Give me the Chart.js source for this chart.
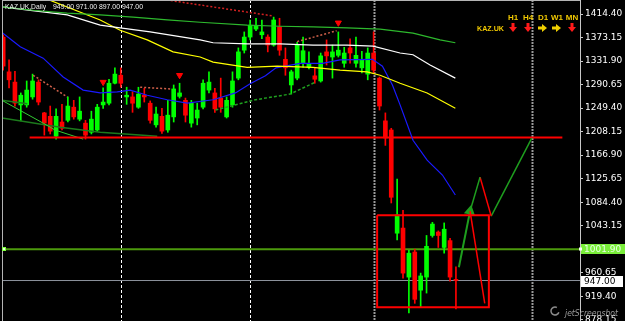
<!DOCTYPE html>
<html>
<head>
<meta charset="utf-8">
<script src="https://cdn.jsdelivr.net/npm/chart.js@4.4.0/dist/chart.umd.min.js"></script>
<style>
  html, body { margin: 0; padding: 0; background: #000; }
  canvas { display: block; }
</style>
</head>
<body>
<canvas id="chart" width="625" height="321"></canvas>
<script>
// KAZ.UK daily candles (index 0 = oldest visible bar)
const opens = [1374,1313,1295,1255,1255,1269,1295,1241,1235,1200,
               1225,1228,1251,1230,1223,1207,1211,1255,1258,1293,
               1307,1269,1269,1251,1272,1258,1220,1235,1211,1234,
               1270,1263,1223,1232,1251,1281,1276,1267,1234,1255,
               1302,1351,1374,1388,1378,1374,1360,1392,1335,1290,
               1302,1328,1321,1306,1297,1348,1339,1342,1328,1355,
               1328,1320,1309,1346,1302,1227,1211,1030,1039,953,
               997,930,953,1026,1032,1005,1017,949];
const highs = [1378,1334,1314,1276,1297,1309,1299,1242,1253,1248,
               1256,1269,1263,1269,1228,1244,1256,1285,1300,1320,
               1320,1286,1278,1286,1284,1262,1251,1249,1263,1290,
               1293,1267,1263,1258,1299,1313,1284,1302,1269,1313,
               1355,1383,1404,1407,1404,1378,1409,1407,1355,1316,
               1365,1374,1348,1320,1346,1369,1360,1383,1356,1371,
               1374,1349,1355,1383,1304,1241,1214,1125,1070,1000,
               1002,960,1026,1049,1034,1048,1021,971];
const lows = [1316,1285,1253,1227,1251,1265,1255,1202,1204,1195,
              1211,1225,1230,1227,1195,1204,1209,1249,1255,1292,
              1286,1256,1242,1249,1260,1223,1216,1205,1207,1225,
              1267,1225,1216,1220,1248,1276,1242,1242,1232,1251,
              1299,1346,1369,1385,1371,1348,1358,1342,1307,1274,
              1299,1321,1318,1293,1295,1325,1302,1339,1321,1328,
              1321,1311,1299,1311,1246,1184,1083,1018,951,890,
              907,900,925,1023,1005,995,946,897];
const closes = [1323,1299,1258,1272,1281,1297,1260,1223,1209,1235,
                1214,1253,1234,1244,1202,1230,1251,1260,1293,1309,
                1293,1272,1258,1274,1269,1228,1239,1209,1237,1283,
                1276,1237,1258,1246,1293,1295,1248,1251,1263,1297,
                1348,1374,1395,1393,1383,1360,1404,1351,1320,1313,
                1360,1350,1328,1300,1341,1341,1348,1351,1346,1346,
                1342,1334,1346,1316,1253,1197,1093,1062,960,995,
                914,955,1007,1046,1026,1037,953,947];

// moving averages, read at sample bars
const blueX = [-0.2,2.9,6.8,10.2,13.6,16.5,19.4,21.6,24.5,27.9,31.3,35.7,39.5,42.0,44.6,46.4,50.5,54.3,57.3,62.8,64.5,66.2,67.5,69.7,72.1,74.7,76.9];
const blueY = [1382,1357,1337,1304,1281,1276,1278,1281,1272,1264,1258,1264,1276,1292,1306,1320,1328,1328,1334,1335,1323,1290,1255,1193,1158,1132,1097];
const whiteX = [-0.2,2.9,10.9,16.5,19.9,25.0,33.5,35.7,41.5,47.1,52.7,58.5,62.9,67.5,69.7,72.6,76.9];
const whiteY = [1427,1423,1413,1395,1390,1383,1369,1364,1362,1362,1360,1360,1358,1346,1343,1325,1302];
const yellowX = [6.6,16.5,19.9,24.5,28.9,33.5,35.7,41.5,46.6,52.7,57.3,61.9,64.1,67.5,72.1,76.9];
const yellowY = [1444,1404,1386,1369,1348,1339,1330,1321,1323,1321,1316,1313,1307,1293,1276,1249];
const greenX = [-0.2,5.1,10.9,16.5,22.1,27.9,33.5,41.5,47.1,52.7,58.5,64.1,69.7,74.3,76.9];
const greenY = [1427,1421,1416,1413,1409,1404,1400,1395,1393,1392,1390,1388,1381,1369,1364];

// trend lines
const resTopX = [28.5,45.9], resTopY = [1438,1411];
const res1X = [5.1,10.9], res1Y = [1307,1269];
const res2X = [23.3,28.4], res2Y = [1286,1283];
const res3X = [50.0,56.7], res3Y = [1366,1385];
const supX = [36.1,42.9,48.8,53.1], supY = [1246,1264,1274,1295];
const lgX = [-0.2,6.8,8.8,13.6], lgY = [1263,1223,1211,1195];
const dg1X = [-0.2,4.1], dg1Y = [1263,1257];
const dg2X = [-0.2,9.7,16.5,26.2], dg2Y = [1232,1216,1207,1200];

// levels and annotations
const levelRed = 1198, levelRedFrom = 4.5, levelRedTo = 95.1;
const levelGreen = 1001.9;
const lastPrice = 947;
const boxX = [63.6,82.6,82.6,63.6,63.6], boxY = [1061.6,1061.6,900.1,900.1,1061.6];
const arrowUpX = [77.5,79.4], arrowUpY = [970.3,1068.6];
const zigGreen1X = [79.4,81.1], zigGreen1Y = [1068.6,1128.3];
const zigRedX = [81.1,83.0], zigRedY = [1128.3,1059.9];
const zigGreen2X = [83.0,89.9], zigGreen2Y = [1059.9,1196.8];
const dropRedX = [79.4,81.9], dropRedY = [1068.6,907.1];
const fractalX = [17,30,57], fractalY = [1295,1307,1399];
const vLineIdx = [20,42,63,90];
const tickVals = [1414.40,1373.15,1331.90,1290.65,1249.40,1208.15,1166.90,1125.65,1084.40,1043.15,1001.90,960.65,919.40,878.15];

const GREEN = '#00ff00', RED = '#ff0000';
const bars = opens.map((o, i) => i);
const candleColors = bars.map(i => closes[i] >= opens[i] ? GREEN : RED);

function pts(xs, ys) { return xs.map((x, k) => ({ x: x, y: ys[k] })); }
function line(xs, ys, color, width, dash, order) {
  return {
    type: 'line', data: pts(xs, ys), borderColor: color, borderWidth: width,
    borderDash: dash || [], pointRadius: 0, fill: false, tension: 0, order: order
  };
}

const datasets = [
  line([-0.2, 98.1], [levelGreen, levelGreen], '#4c9a0c', 2, null, 9),
  line([-0.2, 98.1], [lastPrice, lastPrice], '#8c929c', 1, null, 9),
  { type: 'bar', data: bars.map(i => ({ x: i, y: [lows[i], highs[i]] })),
    backgroundColor: candleColors, barThickness: 1, grouped: false, order: 6 },
  { type: 'bar', data: bars.map(i => ({ x: i, y: [Math.min(opens[i], closes[i]), Math.max(opens[i], closes[i])] })),
    backgroundColor: candleColors, barThickness: 4, grouped: false, order: 5 },
  line(lgX, lgY, '#33cc33', 1, null, 4),
  line(dg1X, dg1Y, '#1c7a1c', 1.5, null, 4),
  line(dg2X, dg2Y, '#1c7a1c', 1.5, null, 4),
  line(resTopX, resTopY, '#d42020', 1.5, [2, 2], 4),
  line(res1X, res1Y, '#d0604a', 1.5, [2, 2], 4),
  line(res2X, res2Y, '#d0604a', 1.5, [2, 2], 4),
  line(res3X, res3Y, '#d0604a', 1.5, [2, 2], 4),
  line(supX, supY, '#1fa01f', 1.5, [3, 2], 4),
  line(greenX, greenY, '#2db82d', 1.2, null, 2),
  line(whiteX, whiteY, '#ffffff', 1.2, null, 2),
  line(yellowX, yellowY, '#ffff00', 1.2, null, 2),
  line(blueX, blueY, '#1a1aff', 1.2, null, 2),
  line([levelRedFrom, levelRedTo], [levelRed, levelRed], RED, 2, null, 3),
  line(boxX, boxY, RED, 2, null, 1),
  line(dropRedX, dropRedY, RED, 1.5, null, 1),
  line(zigGreen1X, zigGreen1Y, '#1e9e1e', 1.5, null, 1),
  line(zigRedX, zigRedY, RED, 1.5, null, 1),
  line(zigGreen2X, zigGreen2Y, '#1e9e1e', 1.5, null, 1),
  Object.assign(line(arrowUpX, arrowUpY, '#1e9e1e', 2, null, 1), {
    pointRadius: [0, 4.5], pointStyle: 'triangle', pointRotation: 11,
    pointBackgroundColor: '#1e9e1e', pointBorderColor: '#1e9e1e'
  }),
  { type: 'line', data: pts(fractalX, fractalY), showLine: false, pointStyle: 'triangle',
    pointRotation: 180, pointRadius: 3.5, pointBackgroundColor: RED, pointBorderColor: RED, order: 1 }
];

function downArrow(ctx, cx, top, color) {
  ctx.fillStyle = color;
  ctx.fillRect(cx - 1.5, top, 3, 5);
  ctx.beginPath();
  ctx.moveTo(cx - 4, top + 4); ctx.lineTo(cx + 4, top + 4); ctx.lineTo(cx, top + 9);
  ctx.closePath(); ctx.fill();
}
function rightArrow(ctx, cx, cy, color) {
  ctx.fillStyle = color;
  ctx.fillRect(cx - 5, cy - 1.5, 5, 3);
  ctx.beginPath();
  ctx.moveTo(cx - 1, cy - 4); ctx.lineTo(cx - 1, cy + 4); ctx.lineTo(cx + 4, cy);
  ctx.closePath(); ctx.fill();
}

const overlay = {
  id: 'overlay',
  beforeDatasetsDraw(chart) {
    const ctx = chart.ctx, xs = chart.scales.x, area = chart.chartArea;
    ctx.save();
    vLineIdx.forEach((idx, k) => {
      const x = Math.round(xs.getPixelForValue(idx)) + 0.5;
      ctx.beginPath();
      if (k < 2) { ctx.strokeStyle = '#ffffff'; ctx.lineWidth = 1; ctx.setLineDash([3, 2]); }
      else { ctx.strokeStyle = '#9a9a9a'; ctx.lineWidth = 2; ctx.setLineDash([2, 1]); }
      ctx.moveTo(x, area.top); ctx.lineTo(x, area.bottom); ctx.stroke();
    });
    ctx.restore();
  },
  afterDraw(chart) {
    const ctx = chart.ctx, ys = chart.scales.y, area = chart.chartArea;
    ctx.save();
    // frame
    ctx.strokeStyle = '#b4b4b4'; ctx.lineWidth = 1; ctx.setLineDash([]);
    ctx.beginPath();
    ctx.moveTo(area.left + 0.5, 0); ctx.lineTo(area.left + 0.5, area.bottom);
    ctx.moveTo(area.left, 0.5); ctx.lineTo(area.right, 0.5);
    ctx.stroke();

    // header text
    ctx.fillStyle = '#f2f2f2';
    ctx.font = '8px "Liberation Sans"';
    ctx.textBaseline = 'alphabetic';
    ctx.fillText('KAZ.UK,Daily', 5, 9, 41);
    ctx.fillText('949.00 971.00 897.00 947.00', 53, 9, 90);

    // timeframe panel
    ctx.font = 'bold 8px "Liberation Sans"';
    ctx.textAlign = 'center';
    const tf = [['H1', 513, 'd'], ['H4', 528, 'd'], ['D1', 543, 'r'], ['W1', 557, 'r'], ['MN', 572, 'd']];
    tf.forEach(t => { ctx.fillStyle = '#f0c800'; ctx.fillText(t[0], t[1], 20); });
    ctx.textAlign = 'left';
    ctx.fillStyle = '#f0c800';
    ctx.fillText('KAZ.UK', 477, 31, 27);
    tf.forEach(t => {
      if (t[2] === 'd') downArrow(ctx, t[1], 23, '#ff1a1a');
      else rightArrow(ctx, t[1], 28, '#f0d000');
    });

    // level markers on price axis
    const gy = Math.round(ys.getPixelForValue(levelGreen));
    ctx.fillStyle = '#80ff40';
    ctx.fillRect(area.left, gy - 2, 4, 4);
    ctx.fillStyle = '#e8ffe0';
    ctx.fillRect(area.left + 1, gy - 1, 2, 2);
    ctx.fillStyle = '#7aee3a';
    ctx.fillRect(area.right + 1, gy - 5, 44, 10);
    ctx.fillStyle = '#ffffff';
    ctx.fillRect(area.right - 1, gy - 1.5, 3, 3);
    ctx.fillStyle = '#eaffea';
    ctx.font = '9px "DejaVu Sans"';
    ctx.textBaseline = 'middle';
    ctx.fillText(levelGreen.toFixed(2), area.right + 4, gy + 0.5);

    const py = Math.round(ys.getPixelForValue(lastPrice));
    ctx.fillStyle = '#ffffff';
    ctx.fillRect(area.right + 1, py - 5, 42, 11);
    ctx.fillStyle = '#000000';
    ctx.fillText(lastPrice.toFixed(2), area.right + 4, py + 0.5);

    // watermark
    ctx.strokeStyle = '#8a8a8a'; ctx.lineWidth = 1.5;
    ctx.beginPath(); ctx.arc(555, 311, 4, 0.3, 5.2); ctx.stroke();
    ctx.fillStyle = '#9a9a9a';
    ctx.font = 'italic 9px "DejaVu Sans"';
    ctx.textBaseline = 'alphabetic';
    ctx.fillText('jetScreenshot', 565, 316, 53);
    ctx.restore();
  }
};

new Chart(document.getElementById('chart'), {
  type: 'bar',
  data: { datasets: datasets },
  options: {
    responsive: false,
    animation: false,
    layout: { autoPadding: false, padding: { left: 2, right: 0, top: 0, bottom: 0 } },
    plugins: { legend: { display: false }, tooltip: { enabled: false } },
    scales: {
      x: { type: 'linear', min: -0.2, max: 98.1, display: false, offset: false },
      y: {
        position: 'right', min: 876, max: 1439,
        afterBuildTicks: s => { s.ticks = tickVals.map(v => ({ value: v })); },
        afterFit: s => { s.width = 45; s.paddingTop = 0; s.paddingBottom = 0; },
        ticks: {
          color: '#ffffff', autoSkip: false, padding: 2,
          font: { family: 'DejaVu Sans', size: 9 },
          callback: v => Number(v).toFixed(2)
        },
        grid: { drawOnChartArea: false, tickLength: 3, color: '#c8c8c8' },
        border: { color: '#c8c8c8' }
      }
    }
  },
  plugins: [overlay]
});
</script>
</body>
</html>
